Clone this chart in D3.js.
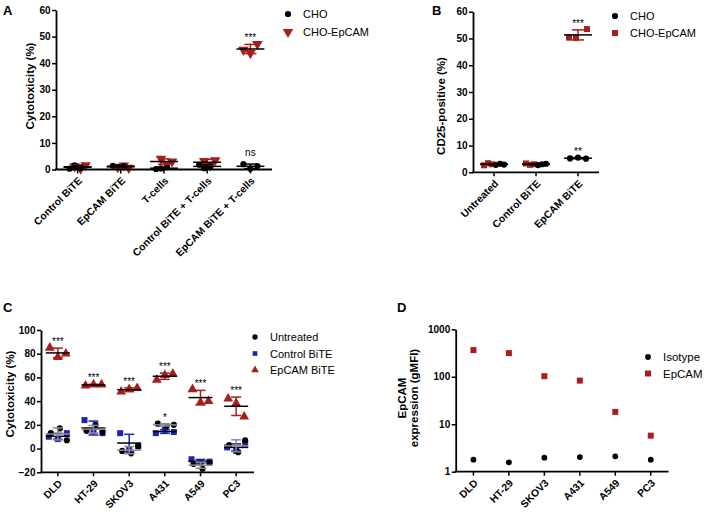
<!DOCTYPE html>
<html><head><meta charset="utf-8">
<script src="https://cdn.jsdelivr.net/npm/d3@7"></script>
<style>body{margin:0;background:#fff} svg text{font-family:"Liberation Sans",Arial,sans-serif}</style>
</head><body><svg id="c" width="709" height="516"></svg>
<script>
// ---------- DATA ----------
const aCategories = ["Control BiTE","EpCAM BiTE","T-cells","Control BiTE + T-cells","EpCAM BiTE + T-cells"];
const aCHO   = [[0.3,1.6,0.6],[1.4,1.0,1.3],[0.2,0.4,0.9],[1.8,0.5,1.2],[2.0,0.3,1.3]];
const aEpCAM = [[1.2,0.3,1.6],[0.9,1.5,0.6],[4.0,2.0,3.0],[3.2,1.5,3.5],[45.0,43.8,47.2]];
const aTicks = [0,10,20,30,40,50,60];
const aStars = [{cat:"EpCAM BiTE + T-cells", series:1, text:"***"},{cat:"EpCAM BiTE + T-cells", series:0, text:"ns"}];

const bCategories = ["Untreated","Control BiTE","EpCAM BiTE"];
const bCHO   = [[2.8,3.2,2.9],[2.7,3.0,3.2],[5.2,5.5,5.1]];
const bEpCAM = [[2.6,3.4,3.0],[3.3,2.8,3.0],[50.3,50.2,53.5]];
const bTicks = [0,10,20,30,40,50,60];
const bStars = [{cat:"EpCAM BiTE", series:1, text:"***"},{cat:"EpCAM BiTE", series:0, text:"**"}];

const cCategories = ["DLD","HT-29","SKOV3","A431","A549","PC3"];
const cUntreated = [[13,17,7],[15,20,14],[-2,-4,2],[21,19,20],[-13,-17,-12],[3,-3,7]];
const cControl   = [[10,8,13],[24,15,13],[13,-1,2],[13,16,14],[-9,-12,-11],[1,-2,4]];
const cEpCAM     = [[85,77,80],[53,54,54],[48,50,51],[58,62,63],[50,39,40],[42,38,27]];
const cTicks = [-20,0,20,40,60,80,100];
const cStars = [
  {cat:"DLD",series:2,text:"***"},{cat:"HT-29",series:2,text:"***"},{cat:"SKOV3",series:2,text:"***"},
  {cat:"A431",series:2,text:"***"},{cat:"A549",series:2,text:"***"},{cat:"PC3",series:2,text:"***"},
  {cat:"A431",series:0,text:"*"}];

const dCategories = ["DLD","HT-29","SKOV3","A431","A549","PC3"];
const dIsotype = [1.79,1.58,1.97,2.04,2.11,1.79];
const dEpCAM   = [364,315,103,83,18.2,5.75];
const dTicks = [1,10,100,1000];

// ---------- STYLE ----------
const RED = "#a81d1d", BLUE = "#1d22b0", GRAY = "#8a8a8a", BLACK = "#000";
const svg = d3.select("#c");
const FONT = "'Liberation Sans',Arial,sans-serif";

function sym(type, size, rot) {
  return {path: d3.symbol().type(type).size(size)(), rot: rot || 0};
}

function yAxis(g, y, x0, ticks, fmt) {
  const ax = d3.axisLeft(y).tickValues(ticks).tickSize(4).tickSizeOuter(0).tickPadding(1.5);
  if (fmt) ax.tickFormat(fmt);
  const a = g.append("g").attr("transform", `translate(${x0},0)`).call(ax);
  a.select(".domain").attr("stroke", "#000").attr("stroke-width", 1.8);
  a.selectAll(".tick line").attr("stroke", "#000").attr("stroke-width", 1.5);
  a.selectAll(".tick text").attr("font-family", FONT).attr("font-weight", "bold").attr("font-size", 10).attr("fill", "#000");
}

function xAxis(g, x, x0, x1, y0, cats) {
  g.append("line").attr("x1", x0 - 0.9).attr("x2", x1).attr("y1", y0).attr("y2", y0)
    .attr("stroke", "#000").attr("stroke-width", 1.8);
  cats.forEach(c => {
    const cx = x(c) + x.bandwidth() / 2;
    g.append("line").attr("x1", cx).attr("x2", cx).attr("y1", y0).attr("y2", y0 + 4)
      .attr("stroke", "#000").attr("stroke-width", 1.5);
    g.append("text").attr("transform", `translate(${cx + 5},${y0 + 12}) rotate(-45)`)
      .attr("text-anchor", "end").attr("font-weight", "bold").attr("font-size", 10.3).text(c);
  });
}

function yTitle(g, lines, x, cy) {
  lines.forEach(l => {
    g.append("text").attr("transform", `translate(${l.dx + x},${cy}) rotate(-90)`)
      .attr("text-anchor", "middle").attr("font-weight", "bold").attr("font-size", 11.5).text(l.t);
  });
}

function panelLetter(t, x, y) {
  svg.append("text").attr("x", x).attr("y", y).attr("font-weight", "bold").attr("font-size", 13).text(t);
}

function legend(items, x, y, dy, fs) {
  items.forEach((it, i) => {
    svg.append("path").attr("d", it.s.path)
      .attr("transform", `translate(${x},${y + i * dy}) rotate(${it.s.rot})`).attr("fill", it.color);
    svg.append("text").attr("x", x + 15).attr("y", y + i * dy + 4).attr("font-size", fs).text(it.name);
  });
}

// dot plot with mean +/- SD
function dotPlot(g, x, y, cats, series, stars, opts) {
  const stats = series.map(s => s.values.map(v => ({m: d3.mean(v), sd: d3.deviation(v)})));
  cats.forEach((c, ci) => {
    const cx = x(c) + x.bandwidth() / 2;
    let split = false;
    if (opts.split && series.length === 2) {
      const d = Math.abs(y(stats[0][ci].m) - y(stats[1][ci].m));
      split = d < 9;
    }
    series.forEach((s, si) => {
      const vals = s.values[ci];
      let offs = opts.offsets[si];
      if (split) offs = opts.splitOffsets[si];
      vals.forEach((v, vi) => {
        g.append("path").attr("d", s.sym.path)
          .attr("transform", `translate(${cx + offs[vi]},${y(v)}) rotate(${s.sym.rot})`)
          .attr("fill", s.color);
      });
    });
    series.forEach((s, si) => {
      const st = stats[si][ci];
      const top = y(st.m + st.sd), bot = y(st.m - st.sd), my = y(st.m);
      const ec = s.errColor;
      g.append("line").attr("x1", cx).attr("x2", cx).attr("y1", top).attr("y2", bot).attr("stroke", ec).attr("stroke-width", 1.5);
      [top, bot].forEach(yy => g.append("line").attr("x1", cx - opts.cap).attr("x2", cx + opts.cap)
        .attr("y1", yy).attr("y2", yy).attr("stroke", ec).attr("stroke-width", 1.5));
      g.append("line").attr("x1", cx - opts.meanW).attr("x2", cx + opts.meanW).attr("y1", my).attr("y2", my)
        .attr("stroke", s.meanColor).attr("stroke-width", 1.5);
    });
  });
  stars.forEach(st => {
    const ci = cats.indexOf(st.cat);
    const s = stats[st.series][ci];
    const cx = x(st.cat) + x.bandwidth() / 2;
    const yy = y(s.m + s.sd) - (st.text === "ns" ? 8 : 3);
    g.append("text").attr("x", cx).attr("y", yy).attr("text-anchor", "middle")
      .attr("font-size", 10).text(st.text);
  });
}

const circ = sym(d3.symbolCircle, 30);
const triDown = sym(d3.symbolTriangle, 48, 180);
const triUp = sym(d3.symbolTriangle, 42, 0);
const sq = sym(d3.symbolSquare, 36);

// ---------- PANEL A ----------
{
  const g = svg.append("g");
  const x = d3.scaleBand().domain(aCategories).range([56, 272]);
  const y = d3.scaleLinear().domain([0, 60]).range([169.5, 10]);
  dotPlot(g, x, y, aCategories, [
    {values: aEpCAM, color: RED, sym: triDown, errColor: RED, meanColor: BLACK},
    {values: aCHO, color: BLACK, sym: circ, errColor: BLACK, meanColor: BLACK}
  ], aStars.map(s => ({...s, series: s.series === 1 ? 0 : 1})),
  {offsets: [[-7, 0, 7], [-7, 0, 7]], splitOffsets: [[-3, 3, 8], [-8, -3, 3]], split: true, cap: 6, meanW: 14});
  yAxis(g, y, 56, aTicks);
  xAxis(g, x, 56, 272, 169.5, aCategories);
  yTitle(g, [{t: "Cytotoxicity (%)", dx: 0}], 34, 86);
  panelLetter("A", 3, 15);
  legend([{name: "CHO", color: BLACK, s: circ}, {name: "CHO-EpCAM", color: RED, s: triDown}], 288, 14, 18, 11);
}

// ---------- PANEL B ----------
{
  const g = svg.append("g");
  const x = d3.scaleBand().domain(bCategories).range([473, 599]);
  const y = d3.scaleLinear().domain([0, 60]).range([172.3, 11.7]);
  dotPlot(g, x, y, bCategories, [
    {values: bEpCAM, color: RED, sym: sq, errColor: RED, meanColor: BLACK},
    {values: bCHO, color: BLACK, sym: circ, errColor: BLACK, meanColor: BLACK}
  ], bStars.map(s => ({...s, series: s.series === 1 ? 0 : 1})),
  {offsets: [[-9, -2, 9], [-8, 0, 8]], splitOffsets: [[-10, -6, -2], [2, 6, 10]], split: true, cap: 6, meanW: 14});
  yAxis(g, y, 473, bTicks);
  xAxis(g, x, 473, 599, 172.3, bCategories);
  yTitle(g, [{t: "CD25-positive (%)", dx: 0}], 445, 106);
  panelLetter("B", 432, 15);
  legend([{name: "CHO", color: BLACK, s: circ}, {name: "CHO-EpCAM", color: RED, s: sq}], 615, 16, 17, 11);
}

// ---------- PANEL C ----------
{
  const g = svg.append("g");
  const x = d3.scaleBand().domain(cCategories).range([40, 254]);
  const y = d3.scaleLinear().domain([-20, 100]).range([472.3, 330]);
  dotPlot(g, x, y, cCategories, [
    {values: cEpCAM, color: RED, sym: triUp, errColor: RED, meanColor: BLACK},
    {values: cControl, color: BLUE, sym: sq, errColor: BLUE, meanColor: BLACK},
    {values: cUntreated, color: BLACK, sym: circ, errColor: GRAY, meanColor: GRAY}
  ], cStars.map(s => ({...s, series: 2 - s.series})),
  {offsets: [[-8, 0, 8], [-9, 0, 9], [-7, 2, 9]], split: false, cap: 5, meanW: 12});
  yAxis(g, y, 41, cTicks);
  xAxis(g, x, 41, 254, 472.3, cCategories);
  yTitle(g, [{t: "Cytotoxicity (%)", dx: 0}], 14, 394);
  panelLetter("C", 3, 312);
  legend([{name: "Untreated", color: BLACK, s: sym(d3.symbolCircle, 22)},
          {name: "Control BiTE", color: BLUE, s: sym(d3.symbolSquare, 22)},
          {name: "EpCAM BiTE", color: RED, s: sym(d3.symbolTriangle, 26)}], 255, 337, 16.5, 11);
}

// ---------- PANEL D ----------
{
  const g = svg.append("g");
  const x = d3.scaleBand().domain(dCategories).range([455.7, 668.5]);
  const y = d3.scaleLog().domain([1, 1000]).range([471.7, 329.3]);
  const dc = sym(d3.symbolCircle, 26), ds = sym(d3.symbolSquare, 36);
  dCategories.forEach((c, i) => {
    const cx = x(c) + x.bandwidth() / 2;
    g.append("path").attr("d", ds.path).attr("transform", `translate(${cx},${y(dEpCAM[i])})`).attr("fill", RED);
    g.append("path").attr("d", dc.path).attr("transform", `translate(${cx},${y(dIsotype[i])})`).attr("fill", BLACK);
  });
  yAxis(g, y, 455.7, dTicks, d3.format("d"));
  xAxis(g, x, 455.7, 668.5, 471.7, dCategories);
  yTitle(g, [{t: "EpCAM", dx: 0}, {t: "expression (gMFI)", dx: 12}], 406, 398);
  panelLetter("D", 397, 312);
  legend([{name: "Isotype", color: BLACK, s: dc}, {name: "EpCAM", color: RED, s: ds}], 648, 357, 16.5, 11.5);
}
</script></body></html>
